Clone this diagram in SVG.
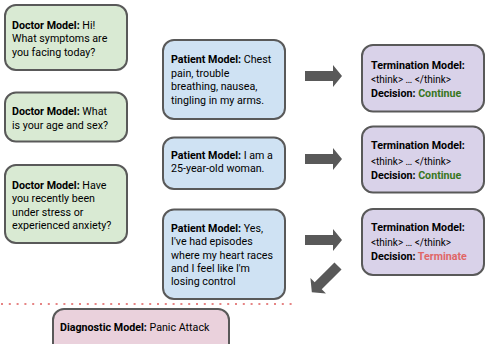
<svg xmlns="http://www.w3.org/2000/svg" width="486" height="344" viewBox="0 0 486 344">
<style>
.box{stroke:#595959;stroke-width:2}
.doc{fill:#d9ead3}
.pat{fill:#cfe2f3}
.term{fill:#d9d2e9}
.diag{fill:#ead1dc}
text{font-family:Roboto,"Liberation Sans",Arial,sans-serif;font-size:10.7px;fill:#000}
.b{font-weight:700}
.small{font-size:10px}
.go{fill:#38761d;font-weight:700}
.stop{fill:#e06666;font-weight:700}
.arrow{fill:#595959}
</style>
<defs>
<path id="arr" d="M0,-5 H28 V-11 L37,0 L28,11 V5 H0 Z"/>
</defs>
<rect width="486" height="344" fill="#fff"/>
<g id="doctor1">
<rect class="box doc" x="5" y="5" width="122" height="65" rx="11"/>
<text x="12" y="28.5"><tspan class="b">Doctor Model:</tspan> Hi!</text>
<text x="12" y="42">What symptoms are</text>
<text x="12" y="55.5">you facing today?</text>
</g>
<g id="doctor2">
<rect class="box doc" x="5" y="92.5" width="122" height="49" rx="11"/>
<text x="12" y="115"><tspan class="b">Doctor Model:</tspan>  What</text>
<text x="12" y="128.5">is your age and sex?</text>
</g>
<g id="doctor3">
<rect class="box doc" x="5" y="165" width="122" height="78" rx="11"/>
<text x="12" y="189"><tspan class="b">Doctor Model:</tspan> Have</text>
<text x="12" y="202.3">you recently been</text>
<text x="12" y="215.6">under stress or</text>
<text x="12" y="229">experienced anxiety?</text>
</g>
<g id="patient1">
<rect class="box pat" x="163" y="40" width="122" height="79" rx="11"/>
<text x="171" y="63"><tspan class="b">Patient Model:</tspan> Chest</text>
<text x="171" y="76.5">pain, trouble</text>
<text x="171" y="90">breathing, nausea,</text>
<text x="171" y="103.5">tingling in my arms.</text>
</g>
<g id="patient2">
<rect class="box pat" x="163" y="137.5" width="122" height="51.5" rx="11"/>
<text x="171" y="159"><tspan class="b">Patient Model:</tspan> I am a</text>
<text x="171" y="172.3">25-year-old woman.</text>
</g>
<g id="patient3">
<rect class="box pat" x="163" y="209.5" width="122" height="89.5" rx="11"/>
<text x="171" y="232"><tspan class="b">Patient Model:</tspan> Yes,</text>
<text x="171" y="245.4">I've had episodes</text>
<text x="171" y="258.7">where my heart races</text>
<text x="171" y="272">and I feel like I'm</text>
<text x="171" y="285.4">losing control</text>
</g>
<g id="term1">
<rect class="box term" x="362" y="45" width="122" height="66.5" rx="11"/>
<text class="b" x="371" y="69">Termination Model:</text>
<text class="small" x="371" y="83">&lt;think&gt; … &lt;/think&gt;</text>
<text x="371" y="97.3"><tspan class="b">Decision: </tspan><tspan class="go">Continue</tspan></text>
</g>
<g id="term2">
<rect class="box term" x="362" y="126.5" width="122" height="66" rx="11"/>
<text class="b" x="371" y="149">Termination Model:</text>
<text class="small" x="371" y="164.5">&lt;think&gt; … &lt;/think&gt;</text>
<text x="371" y="179"><tspan class="b">Decision: </tspan><tspan class="go">Continue</tspan></text>
</g>
<g id="term3">
<rect class="box term" x="362" y="209" width="122" height="66" rx="11"/>
<text class="b" x="371" y="231.3">Termination Model:</text>
<text class="small" x="371" y="245.7">&lt;think&gt; … &lt;/think&gt;</text>
<text x="371" y="260"><tspan class="b">Decision: </tspan><tspan class="stop">Terminate</tspan></text>
</g>
<g id="diagnostic">
<rect class="box diag" x="53" y="309" width="176" height="50" rx="11"/>
<text x="60" y="331"><tspan class="b">Diagnostic Model:</tspan> Panic Attack</text>
</g>
<g id="connectors">
<use href="#arr" class="arrow" transform="translate(305,76)"/>
<use href="#arr" class="arrow" transform="translate(305,159)"/>
<use href="#arr" class="arrow" transform="translate(305,240)"/>
<use href="#arr" class="arrow" transform="translate(338,266) rotate(135)"/>
<line x1="1" y1="304" x2="296" y2="304" stroke="#e06666" stroke-width="2" stroke-dasharray="2 5.8" opacity="0.8"/>
</g>
</svg>
